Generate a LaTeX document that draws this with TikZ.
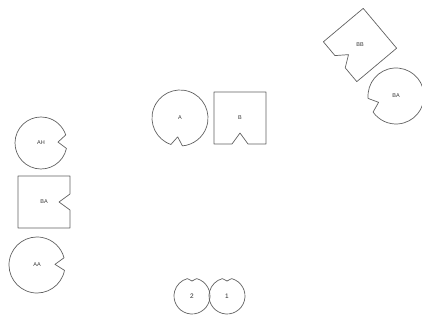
\documentclass[tikz,border=0pt]{standalone}
\usepackage{fontspec}
\setmainfont{Liberation Sans}
\usetikzlibrary{calc}
\tikzset{
  shp/.style={draw=black!62, line width=0.7pt, line join=round},
  lbl/.style={inner sep=0pt, font=\fontsize{5.5}{6}\selectfont, text=black!80},
  num/.style={inner sep=0pt, font=\fontsize{6.5}{7}\selectfont, text=black!85}
}
% #1 centre node, #2 radius, #3 notch direction, #4 half opening, #5 apex distance
\newcommand\pacshape[5]{%
  \draw[shp] ($(#1)+(#3+#4:#2)$) arc[start angle=#3+#4, end angle=#3+360-#4, radius=#2]
     -- ($(#1)+(#3:#5)$) -- cycle;}
% #1 centre node, #2 rotation
\newcommand\notchsq[2]{%
  \begin{scope}[shift={(#1)}, rotate=#2]
    \draw[shp] (-26,-26) -- (26,-26) -- (26,26) -- (8,26) -- (0,15) -- (-8,26) -- (-26,26) -- cycle;
  \end{scope}}
\begin{document}
\begin{tikzpicture}[x=1pt, y=-1pt]
\useasboundingbox (0,0) rectangle (422,320);
% labels / centres
\node[lbl] (A) at (180,118) {A};
\node[lbl] (B) at (240,118) {B};
\node[lbl] (BB) at (360,45) {BB};
\node[lbl] (BAr) at (396,96) {BA};
\node[lbl] (AH) at (41,143) {AH};
\node[lbl] (BAl) at (44,202) {BA};
\node[lbl] (AA) at (37,265) {AA};
\node[num] (n2) at (192,296) {2};
\node[num] (n1) at (227,296) {1};
% shapes
\pacshape{A}{28}{97}{12}{19}
\notchsq{B}{0}
\notchsq{BB}{-50}
\pacshape{BAr}{28}{160}{15}{18.5}
\pacshape{AH}{26}{-3}{15}{17}
\notchsq{BAl}{90}
\pacshape{AA}{28}{-2}{13}{18}
\pacshape{n2}{18}{270}{15}{15}
\pacshape{n1}{18}{270}{15}{15}
\end{tikzpicture}
\end{document}
